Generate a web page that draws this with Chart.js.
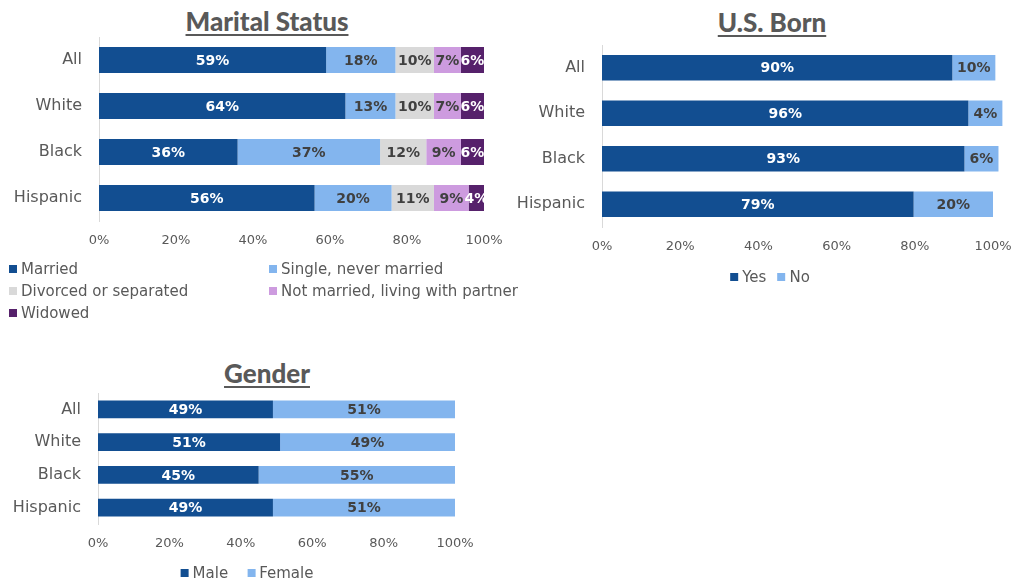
<!DOCTYPE html>
<html>
<head>
<meta charset="utf-8">
<script src="https://cdn.jsdelivr.net/npm/chart.js@4"></script>
<style>
    body { margin: 0; width: 1011px; height: 582px; background: #fff; position: relative; overflow: hidden; font-family: "DejaVu Sans", sans-serif; color: #595959; }
    canvas { position: absolute; }
    .titre { position: absolute; transform: translate(-50%, -50%); font-family: Lato, sans-serif; font-weight: 900; font-size: 26px; text-decoration: underline; text-decoration-thickness: 2px; text-underline-offset: 3px; white-space: nowrap; color: #595959; }
    .legende { position: absolute; font-size: 15px; color: #595959; }
    .item { display: flex; align-items: center; white-space: nowrap; height: 22px; }
    .carre { width: 8px; height: 8px; margin-right: 4px; flex: none; }
</style>
</head>
<body>
<div class="titre" style="left:267px; top:21px;">Marital Status</div>
<div class="titre" style="left:772px; top:22px;">U.S. Born</div>
<div class="titre" style="left:267px; top:373px;">Gender</div>

<canvas id="chart-marital" width="510" height="230" style="left:0; top:30px;"></canvas>
<canvas id="chart-born" width="506" height="230" style="left:505px; top:35px;"></canvas>
<canvas id="chart-gender" width="510" height="180" style="left:0; top:386px;"></canvas>

<div id="legende-marital" class="legende" style="left:9px; top:258px; display:grid; grid-template-columns:260px auto;"></div>
<div id="legende-born" class="legende" style="left:770px; top:266px; transform:translateX(-50%); display:flex; gap:11px;"></div>
<div id="legende-gender" class="legende" style="left:247px; top:562px; transform:translateX(-50%); display:flex; gap:19px;"></div>

<script>
// Données
const groupes = ["All", "White", "Black", "Hispanic"];

const maritalLabels = ["Married", "Single, never married", "Divorced or separated", "Not married, living with partner", "Widowed"];
const married = [59, 64, 36, 56];
const single = [18, 13, 37, 20];
const divorced = [10, 10, 12, 11];
const partner = [7, 7, 9, 9];
const widowed = [6, 6, 6, 4];

// U.S. Born : longueurs des barres, textes affichés à part
const bornLabels = ["Yes", "No"];
const bornYes = [89.6, 93.7, 92.7, 79.7];
const bornNo = [11.0, 8.7, 8.7, 20.3];
const bornYesTexte = ["90%", "96%", "93%", "79%"];
const bornNoTexte = ["10%", "4%", "6%", "20%"];

const genderLabels = ["Male", "Female"];
const male = [49, 51, 45, 49];
const female = [51, 49, 55, 51];

// Couleurs
const bleuFonce = "#124E91";
const bleuClair = "#83B5EE";
const gris = "#D9D9D9";
const lilas = "#CD9BDF";
const violet = "#56216B";
const texteClair = "#FFFFFF";
const texteFonce = "#404040";

// Plugin pour écrire les pourcentages dans les barres
const etiquettes = {
    id: "etiquettes",
    afterDatasetsDraw(chart, args, opts) {
        const ctx = chart.ctx;
        chart.data.datasets.forEach((ds, i) => {
            const meta = chart.getDatasetMeta(i);
            meta.data.forEach((bar, j) => {
                const x = (bar.x + bar.base) / 2;
                const texte = opts.textes ? opts.textes[i][j] : ds.data[j] + "%";
                ctx.save();
                ctx.font = "bold 14px 'DejaVu Sans'";
                ctx.fillStyle = opts.couleurs[i];
                ctx.textAlign = "center";
                ctx.textBaseline = "middle";
                ctx.fillText(texte, x, bar.y + 1);
                ctx.restore();
            });
        });
    }
};

function barreEmpilee(id, series, couleurs, couleursTexte, textes, zone) {
    const canvas = document.getElementById(id);
    const datasets = series.map((s, i) => ({
        label: s.label,
        data: s.data,
        backgroundColor: couleurs[i],
        borderWidth: 0,
        barPercentage: 1,
        categoryPercentage: zone.epaisseur,
        clip: false
    }));

    return new Chart(canvas.getContext("2d"), {
        type: "bar",
        data: { labels: groupes, datasets: datasets },
        options: {
            indexAxis: "y",
            responsive: false,
            animation: false,
            layout: { padding: { left: 0, top: zone.haut, right: zone.droite, bottom: 0 } },
            plugins: {
                legend: { display: false },
                tooltip: { enabled: false },
                etiquettes: { couleurs: couleursTexte, textes: textes }
            },
            scales: {
                x: {
                    stacked: true,
                    min: 0,
                    max: 100,
                    grid: { display: false, drawTicks: false },
                    border: { display: false },
                    ticks: {
                        stepSize: 20,
                        maxRotation: 0,
                        padding: zone.padX,
                        color: "#595959",
                        font: { family: "DejaVu Sans", size: 13 },
                        callback: v => v + "%"
                    },
                    afterFit: scale => {
                        scale.height = zone.basX;
                        scale.paddingLeft = 0;
                        scale.paddingRight = 0;
                    }
                },
                y: {
                    stacked: true,
                    grid: { display: false, drawTicks: false },
                    border: { display: true, color: "#D9D9D9", width: 1 },
                    ticks: {
                        padding: 17,
                        color: "#595959",
                        font: { family: "DejaVu Sans", size: 16 }
                    },
                    afterFit: scale => {
                        scale.width = zone.gauche;
                        scale.paddingTop = 0;
                        scale.paddingBottom = 0;
                    }
                }
            }
        },
        plugins: [etiquettes]
    });
}

function legendeHTML(id, labels, couleurs) {
    const div = document.getElementById(id);
    labels.forEach((l, i) => {
        const item = document.createElement("div");
        item.className = "item";
        item.innerHTML = `<span class="carre" style="background:${couleurs[i]}"></span>${l}`;
        div.appendChild(item);
    });
}

// Marital Status
const couleursMarital = [bleuFonce, bleuClair, gris, lilas, violet];
barreEmpilee("chart-marital",
    [married, single, divorced, partner, widowed].map((d, i) => ({ label: maritalLabels[i], data: d })),
    couleursMarital,
    [texteClair, texteFonce, texteFonce, texteFonce, texteClair],
    null,
    { gauche: 99, droite: 26, haut: 7, basX: 39, padX: 12, epaisseur: 0.565 });
legendeHTML("legende-marital", maritalLabels, couleursMarital);

// U.S. Born
barreEmpilee("chart-born",
    [bornYes, bornNo].map((d, i) => ({ label: bornLabels[i], data: d })),
    [bleuFonce, bleuClair],
    [texteClair, texteFonce],
    [bornYesTexte, bornNoTexte],
    { gauche: 97, droite: 18, haut: 10, basX: 38, padX: 12, epaisseur: 0.56 });
legendeHTML("legende-born", bornLabels, [bleuFonce, bleuClair]);

// Gender
barreEmpilee("chart-gender",
    [male, female].map((d, i) => ({ label: genderLabels[i], data: d })),
    [bleuFonce, bleuClair],
    [texteClair, texteFonce],
    null,
    { gauche: 98, droite: 55, haut: 7, basX: 42, padX: 12, epaisseur: 0.54 });
legendeHTML("legende-gender", genderLabels, [bleuFonce, bleuClair]);
</script>
</body>
</html>
